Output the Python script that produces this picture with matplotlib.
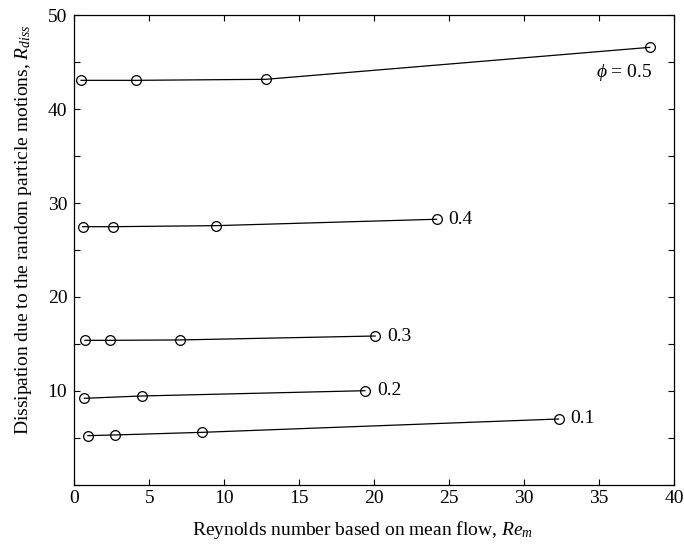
import numpy as np
import matplotlib
matplotlib.use('Agg')
import matplotlib.pyplot as plt
from matplotlib.ticker import MultipleLocator

plt.rcParams['font.family'] = ['Liberation Serif', 'DejaVu Serif']
plt.rcParams['mathtext.fontset'] = 'custom'
plt.rcParams['mathtext.rm'] = 'Liberation Serif'
plt.rcParams['mathtext.it'] = 'Liberation Serif:italic'

# data: (Re_m, R_diss) for each volume fraction phi
re_01 = [0.91, 2.69, 8.51, 32.3]
rd_01 = [5.25, 5.32, 5.60, 7.02]

re_02 = [0.67, 4.51, 19.38]
rd_02 = [9.22, 9.47, 10.03]

re_03 = [0.71, 2.38, 7.03, 20.07]
rd_03 = [15.39, 15.39, 15.43, 15.85]

re_04 = [0.56, 2.56, 9.45, 24.16]
rd_04 = [27.48, 27.48, 27.59, 28.27]

re_05 = [0.45, 4.11, 12.78, 38.38]
rd_05 = [43.05, 43.05, 43.16, 46.56]

series = [
    (re_01, rd_01, '0.1'),
    (re_02, rd_02, '0.2'),
    (re_03, rd_03, '0.3'),
    (re_04, rd_04, '0.4'),
]

fig = plt.figure(figsize=(6.84, 5.48), dpi=100)
ax = fig.add_axes([0.1086, 0.115, 0.8768, 0.8576])

for re, rd, lab in series:
    ax.plot(re, rd, '-', color='black', lw=0.9, marker='o', markersize=7,
            markerfacecolor='none', markeredgecolor='black', markeredgewidth=0.9)
    ax.text(re[-1] + 0.8, rd[-1], lab, fontsize=14, va='center', ha='left')

ax.plot(re_05, rd_05, '-', color='black', lw=0.9, marker='o', markersize=7,
        markerfacecolor='none', markeredgecolor='black', markeredgewidth=0.9)
ax.text(re_05[-1] + 0.15, rd_05[-1] - 2.7, r'$\phi$ = 0.5', fontsize=14,
        va='center', ha='right')

ax.set_xlim(0, 40)
ax.set_ylim(0, 50)
ax.xaxis.set_major_locator(MultipleLocator(5))
ax.yaxis.set_major_locator(MultipleLocator(10))
ax.yaxis.set_minor_locator(MultipleLocator(5))
ax.set_yticks([10, 20, 30, 40, 50])
ax.tick_params(which='both', direction='in', top=True, right=True,
               length=4, width=0.8, labelsize=14)
ax.tick_params(axis='y', pad=5)
for sp in ax.spines.values():
    sp.set_linewidth(0.9)

ax.set_xlabel(r'Reynolds number based on mean flow, $Re_m$', fontsize=14,
              labelpad=9, x=0.481)
ax.set_ylabel(r'Dissipation due to the random particle motions, $R_{diss}$',
              fontsize=14, labelpad=10, y=0.543)

fig.savefig('out.png', dpi=100)
